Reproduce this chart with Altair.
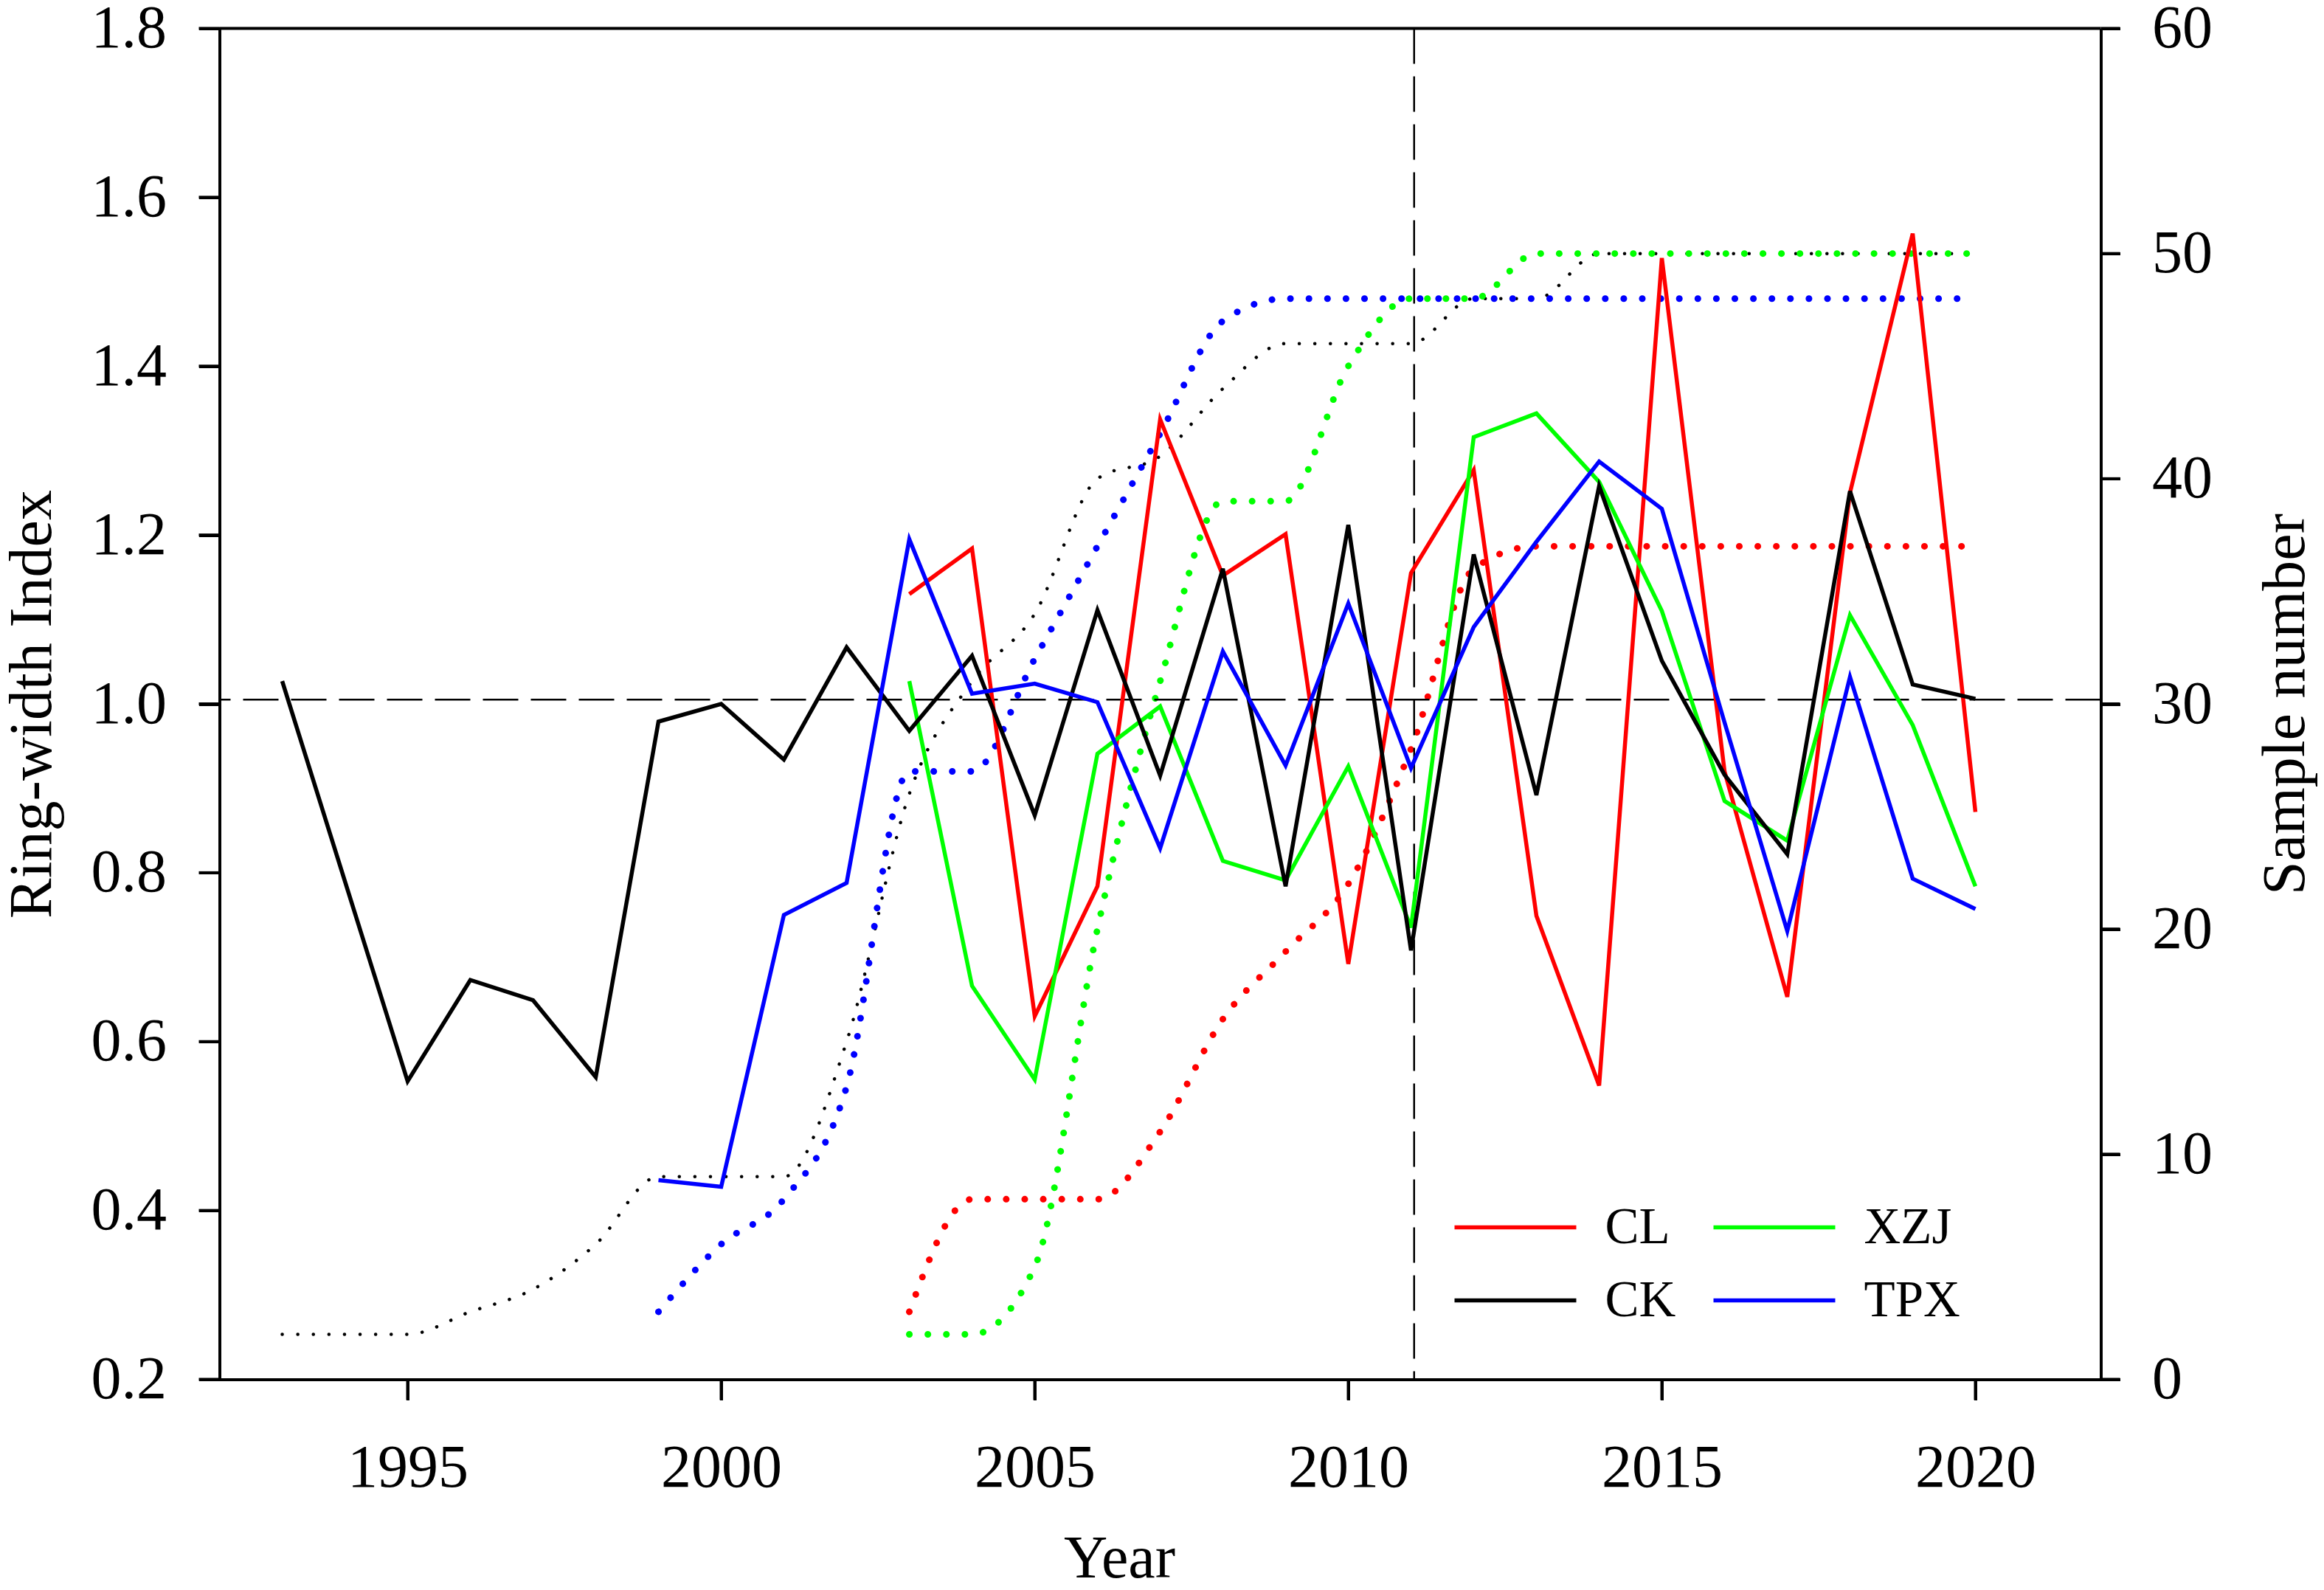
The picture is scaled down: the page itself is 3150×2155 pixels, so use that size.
import altair as alt
import pandas as pd

# ---------------- data ----------------
ck_years = list(range(1993, 2021))
ck_rwi = [1.027, 0.790, 0.553, 0.673, 0.649, 0.558, 0.979, 1.000, 0.934, 1.067,
          0.968, 1.057, 0.868, 1.111, 0.915, 1.160, 0.784, 1.212, 0.708, 1.177,
          0.892, 1.258, 1.051, 0.916, 0.822, 1.252, 1.023, 1.006]
ck_n = [2, 2, 2, 3, 4, 6, 9, 9, 9, 15,
        26, 31, 34, 40, 41, 44, 46, 46, 46, 48,
        48, 50, 50, 50, 50, 50, 50, 50]

cl_years = list(range(2003, 2021))
cl_rwi = [1.130, 1.184, 0.630, 0.784, 1.337, 1.152, 1.201, 0.692, 1.155, 1.277,
          0.749, 0.548, 1.528, 0.920, 0.653, 1.250, 1.557, 0.872]
cl_n = [3, 8, 8, 8, 11, 16, 19, 22, 28, 36, 37, 37, 37, 37, 37, 37, 37, 37]

xzj_years = list(range(2003, 2021))
xzj_rwi = [1.027, 0.666, 0.555, 0.941, 0.997, 0.814, 0.791, 0.926, 0.735, 1.316,
           1.344, 1.263, 1.110, 0.885, 0.838, 1.105, 0.975, 0.784]
xzj_n = [2, 2, 5, 20, 31, 39, 39, 45, 48, 48, 50, 50, 50, 50, 50, 50, 50, 50]

tpx_years = list(range(1999, 2021))
tpx_rwi = [0.436, 0.428, 0.750, 0.788, 1.195, 1.012, 1.024, 1.002, 0.829, 1.062,
           0.927, 1.119, 0.924, 1.091, 1.192, 1.287, 1.231, 0.978, 0.731, 1.032,
           0.793, 0.757]
tpx_n = [3, 6, 8, 13, 27, 27, 32, 37, 42, 47, 48, 48, 48, 48, 48, 48, 48, 48,
         48, 48, 48, 48]

sites = ["CL", "XZJ", "CK", "TPX"]
site_colors = ["#FF0000", "#00FF00", "#000000", "#0000FF"]

ref_index = [1.005]      # horizontal dashed reference
ref_year = [2011.05]     # vertical dashed reference

x_ticks = [1995, 2000, 2005, 2010, 2015, 2020]
left_ticks = [0.2, 0.4, 0.6, 0.8, 1.0, 1.2, 1.4, 1.6, 1.8]
right_ticks = [0, 10, 20, 30, 40, 50, 60]

# ---------------- table ----------------
rows = []
for site, yrs, rwi, n in [("CL", cl_years, cl_rwi, cl_n),
                          ("XZJ", xzj_years, xzj_rwi, xzj_n),
                          ("CK", ck_years, ck_rwi, ck_n),
                          ("TPX", tpx_years, tpx_rwi, tpx_n)]:
    for y, r, s in zip(yrs, rwi, n):
        rows.append({"site": site, "year": y, "rwi": r, "n": s})
df = pd.DataFrame(rows)

FONT = "Liberation Serif"
W, H = 2550, 1831
TICK_L, TICK_R, TICK_W = 28, 26, 4

x_scale = alt.Scale(domain=[1992, 2022], nice=False, zero=False)
yl_scale = alt.Scale(domain=[0.2, 1.8], nice=False, zero=False)
yr_scale = alt.Scale(domain=[0, 60], nice=False, zero=False)
color_scale = alt.Scale(domain=sites, range=site_colors)

x_axis = alt.Axis(
    values=x_ticks, format="d", title="Year", orient="bottom",
    labelPadding=52, labelFlush=False,
    titleX=1219.5, titleY=268, titleBaseline="alphabetic", titleAlign="center",
)
yl_axis = alt.Axis(
    values=left_ticks, format=".1f", title="Ring-width Index", orient="left",
    labelPadding=44, titleAngle=270, titleX=-229.5, titleY=H / 2,
    titleBaseline="alphabetic", titleAlign="center",
)
yr_axis = alt.Axis(
    values=right_ticks, format="d", title="Sample number", orient="right",
    tickSize=TICK_R, labelPadding=43, titleAngle=270, titleX=274.5,
    titleY=H / 2, titleBaseline="alphabetic", titleAlign="center",
)

legend = alt.Legend(
    orient="none", legendX=1671, legendY=1591, columns=2, direction="horizontal",
    title=None, symbolType="stroke", symbolSize=27225, symbolStrokeWidth=5.5,
    labelFont=FONT, labelFontSize=69, labelColor="black", labelOffset=36,
    labelLimit=400, columnPadding=48, rowPadding=30, clipHeight=68, padding=0,
)

base = alt.Chart(df)

dotted_ck = base.transform_filter(alt.datum.site == "CK").mark_line(
    strokeWidth=4.5, strokeDash=[0.1, 21], strokeCap="round", interpolate="monotone",
    color="black",
).encode(
    x=alt.X("year:Q", scale=x_scale, axis=x_axis),
    y=alt.Y("n:Q", scale=yr_scale, axis=yr_axis),
)

dotted_col = base.transform_filter(alt.datum.site != "CK").mark_line(
    strokeWidth=9, strokeDash=[0.1, 25], strokeCap="round", interpolate="monotone"
).encode(
    x=alt.X("year:Q", scale=x_scale, axis=x_axis),
    y=alt.Y("n:Q", scale=yr_scale, axis=None),
    color=alt.Color("site:N", scale=color_scale, legend=legend),
)

hrule = alt.Chart(pd.DataFrame({"v": ref_index})).mark_rule(
    color="black", strokeWidth=2.5, strokeDash=[48, 17]
).encode(y=alt.Y("v:Q", scale=yl_scale, axis=None))

vrule = alt.Chart(pd.DataFrame({"yr": ref_year})).mark_rule(
    color="black", strokeWidth=2.5, strokeDash=[48, 17]
).encode(x=alt.X("yr:Q", scale=x_scale, axis=x_axis))

solid = base.mark_line(strokeWidth=5.5, strokeJoin="miter").encode(
    x=alt.X("year:Q", scale=x_scale, axis=x_axis),
    y=alt.Y("rwi:Q", scale=yl_scale, axis=yl_axis),
    color=alt.Color("site:N", scale=color_scale, legend=legend),
)

# outward tick marks, positioned through the same scales as the axes
x_tick_marks = alt.Chart(pd.DataFrame({"t": x_ticks})).mark_rule(
    color="black", strokeWidth=TICK_W, clip=False
).encode(
    x=alt.X("t:Q", scale=x_scale, axis=x_axis),
    y=alt.value(H), y2=alt.value(H + TICK_L),
)
yl_tick_marks = alt.Chart(pd.DataFrame({"t": left_ticks})).mark_rule(
    color="black", strokeWidth=TICK_W, clip=False
).encode(
    y=alt.Y("t:Q", scale=yl_scale, axis=None),
    x=alt.value(-TICK_L), x2=alt.value(0),
)
yr_tick_marks = alt.Chart(pd.DataFrame({"t": right_ticks})).mark_rule(
    color="black", strokeWidth=TICK_W, clip=False
).encode(
    y=alt.Y("t:Q", scale=yr_scale, axis=None),
    x=alt.value(W), x2=alt.value(W + TICK_R),
)

# top frame line of the plot box
top_frame = alt.Chart(pd.DataFrame({"a": [0]})).mark_rule(
    color="black", strokeWidth=4, clip=False
).encode(y=alt.value(0), x=alt.value(0), x2=alt.value(W))

chart = alt.layer(
    dotted_ck, dotted_col, hrule, vrule, solid,
    x_tick_marks, yl_tick_marks, yr_tick_marks, top_frame,
).resolve_scale(y="independent").properties(
    width=W, height=H,
    padding={"left": 289.5, "top": 30.5, "right": 294.5, "bottom": 272},
    autosize=alt.AutoSizeParams(type="none"),
    background="white",
).configure_view(
    stroke=None
).configure_axis(
    grid=False, ticks=True, domain=True,
    tickSize=TICK_L, tickWidth=TICK_W, tickColor="#000000",
    domainColor="#000000", domainWidth=4,
    labelFont=FONT, labelFontSize=82, labelColor="#000000", labelOverlap=False,
    titleFont=FONT, titleFontSize=82, titleFontWeight="normal", titleColor="#000000",
)

chart.save("out.html", embed_options={"renderer": "svg", "actions": False})
